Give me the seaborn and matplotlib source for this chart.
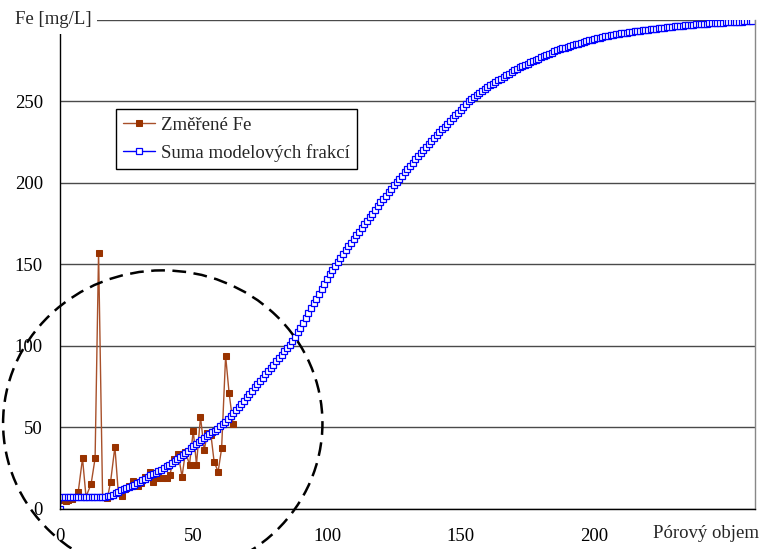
import matplotlib
matplotlib.use("Agg")
import matplotlib.pyplot as plt
import seaborn as sns
import numpy as np
import pandas as pd
from matplotlib.patches import Ellipse

# ---------------- data ----------------
meas_x = [1.3, 2.3, 3.2, 4.5, 7.0, 8.6, 9.9, 11.8, 13.3, 14.6, 16.1, 17.9, 19.1, 20.7,
          22.0, 23.2, 24.5, 26.0, 27.6, 29.4, 30.5, 32.0, 33.8, 35.0, 36.5, 38.2,
          40.0, 41.2, 42.7, 44.4, 45.8, 47.1, 48.6, 50.0, 51.2, 52.7, 54.1, 55.3,
          56.6, 57.8, 59.3, 60.6, 62.1, 63.4, 64.9]
meas_y = [5.3, 5.0, 5.3, 6.0, 10.4, 30.9, 7.4, 15.1, 30.9, 157.2, 7.4, 6.4, 16.6, 38.0,
          9.4, 7.8, 12.0, 14.0, 17.0, 14.0, 15.5, 19.5, 22.7, 16.5, 19.0, 18.6,
          18.6, 20.5, 30.5, 33.5, 19.6, 35.0, 27.0, 48.0, 27.0, 56.4, 36.0, 46.2,
          45.5, 28.8, 22.7, 37.0, 93.8, 71.0, 51.9]

model_y = [
    0.0, 7.4, 7.4, 7.4, 7.4, 7.4, 7.4, 7.4, 7.4, 7.4,
    7.4, 7.4, 7.4, 7.4, 7.4, 7.4, 7.4, 7.4, 7.6, 8.0,
    8.5, 9.5, 10.5, 11.2, 12.0, 12.8, 13.5, 14.0, 14.5, 15.5,
    16.5, 17.5, 18.5, 19.5, 20.5, 21.2, 22.0, 23.0, 24.0, 25.0,
    26.0, 27.0, 28.0, 29.2, 30.5, 31.8, 33.0, 34.2, 35.5, 37.0,
    38.5, 39.8, 41.0, 42.2, 43.5, 44.8, 46.0, 47.0, 48.0, 49.2,
    50.5, 52.0, 53.5, 55.2, 57.0, 58.8, 60.5, 62.2, 64.0, 66.2,
    68.5, 70.5, 72.5, 74.5, 76.5, 78.5, 80.5, 82.5, 84.5, 86.5,
    88.5, 90.5, 92.5, 94.5, 96.5, 98.5, 100.5, 103.0, 105.5, 108.2,
    111.0, 114.0, 117.0, 120.0, 123.0, 126.0, 129.0, 132.0, 135.0, 138.0,
    141.0, 143.8, 146.5, 149.0, 151.5, 154.0, 156.5, 158.8, 161.0, 163.2,
    165.5, 167.8, 170.0, 172.2, 174.5, 176.8, 179.0, 181.2, 183.5, 185.8,
    188.0, 190.0, 192.0, 194.2, 196.5, 198.5, 200.5, 202.5, 204.5, 206.5,
    208.5, 210.5, 212.5, 214.5, 216.5, 218.2, 220.0, 222.0, 224.0, 225.8,
    227.5, 229.2, 231.0, 232.8, 234.5, 236.2, 238.0, 239.8, 241.5, 243.2,
    245.0, 246.8, 248.5, 250.0, 251.5, 252.8, 254.0, 255.2, 256.5, 257.8,
    259.0, 260.0, 261.0, 262.0, 263.0, 264.0, 265.0, 266.0, 267.0, 268.0,
    269.0, 270.0, 271.0, 271.8, 272.5, 273.2, 274.0, 274.8, 275.5, 276.2,
    277.0, 277.8, 278.5, 279.2, 280.0, 280.8, 281.5, 282.0, 282.5, 283.0,
    283.5, 284.0, 284.5, 285.0, 285.5, 286.0, 286.5, 287.0, 287.5, 288.0,
    288.5, 288.8, 289.2, 289.6, 290.0, 290.4, 290.7, 291.0, 291.3, 291.5,
    291.8, 292.0, 292.3, 292.5, 292.8, 293.0, 293.2, 293.4, 293.6, 293.8,
    294.0, 294.2, 294.4, 294.6, 294.8, 295.0, 295.2, 295.4, 295.6, 295.8,
    296.0, 296.2, 296.4, 296.6, 296.7, 296.8, 297.0, 297.2, 297.3, 297.5,
    297.6, 297.7, 297.8, 297.9, 298.0, 298.1, 298.2, 298.3, 298.4, 298.5,
    298.6, 298.7, 298.8, 298.9, 299.0, 299.0, 299.1, 299.1, 299.2, 299.2,
]
model_x = list(range(len(model_y)))

x_ticks = [0, 50, 100, 150, 200, 250]
x_tick_labels = ["0", "50", "100", "150", "200", ""]
y_ticks = [0, 50, 100, 150, 200, 250, 300]
y_tick_labels = ["0", "50", "100", "150", "200", "250", ""]

label_meas = "Změřené Fe"
label_model = "Suma modelových frakcí"
y_title = "Fe [mg/L]"
x_title = "Pórový objem"

# ---------------- style ----------------
sns.set_theme(style="white")
plt.rcParams["font.family"] = ["Liberation Serif", "DejaVu Serif"]
FS = 13.5

fig = plt.figure(figsize=(7.68, 5.49), dpi=100)
ax = fig.add_axes([0.0775, 0.0734, 0.9055, 0.8902])

df_meas = pd.DataFrame({"x": meas_x, "y": meas_y})
df_model = pd.DataFrame({"x": model_x, "y": model_y})

sns.lineplot(data=df_meas, x="x", y="y", ax=ax, color="#a8502a", lw=1.0,
             marker="s", markersize=4, markerfacecolor="#993300",
             markeredgecolor="#993300", sort=False, estimator=None,
             label=label_meas)
sns.lineplot(data=df_model, x="x", y="y", ax=ax, color="#0000ff", lw=1.0,
             marker="s", markersize=4.2, markerfacecolor="white",
             markeredgecolor="#0000ff", markeredgewidth=0.9, sort=False,
             estimator=None, label=label_model)

ax.set_xlim(0, 260)
ax.set_ylim(0, 300)
ax.set_xticks(x_ticks)
ax.set_xticklabels(x_tick_labels)
ax.set_yticks(y_ticks)
ax.set_yticklabels(y_tick_labels)
ax.set_xlabel("")
ax.set_ylabel("")

ax.set_axisbelow(True)
ax.yaxis.grid(True, color="#4a4a4a", lw=1.0)
ax.xaxis.grid(False)

for side in ["left", "bottom"]:
    ax.spines[side].set_color("black")
    ax.spines[side].set_linewidth(1.0)
ax.spines["top"].set_visible(False)
ax.spines["right"].set_color("#888888")
ax.spines["right"].set_linewidth(1.0)

ax.tick_params(axis="both", direction="out", length=5, width=1, color="black",
               labelsize=FS, labelcolor="black")
ax.tick_params(axis="y", pad=7)
ax.tick_params(axis="x", pad=9)

ax.text(-2.4, 300, y_title, ha="center", va="center", fontsize=FS,
        bbox=dict(facecolor="white", edgecolor="none", pad=4),
        zorder=10, clip_on=False)
ax.text(241.8, -15.0, x_title, ha="center", va="center", fontsize=FS,
        clip_on=False)

leg = ax.legend(loc="upper left", bbox_to_anchor=(0.081, 0.818), frameon=True,
                fancybox=False, edgecolor="black", framealpha=1, fontsize=FS,
                borderpad=0.4, labelspacing=0.55, handlelength=1.7,
                handletextpad=0.3, borderaxespad=0)
leg.get_frame().set_linewidth(1.0)

ell = Ellipse((38.6, 52.5), width=119.4, height=187.6, fill=False,
              edgecolor="black", lw=1.8, linestyle=(0, (5.5, 3)),
              clip_on=False, zorder=5)
ax.add_patch(ell)

fig.savefig("out.png", dpi=100)
